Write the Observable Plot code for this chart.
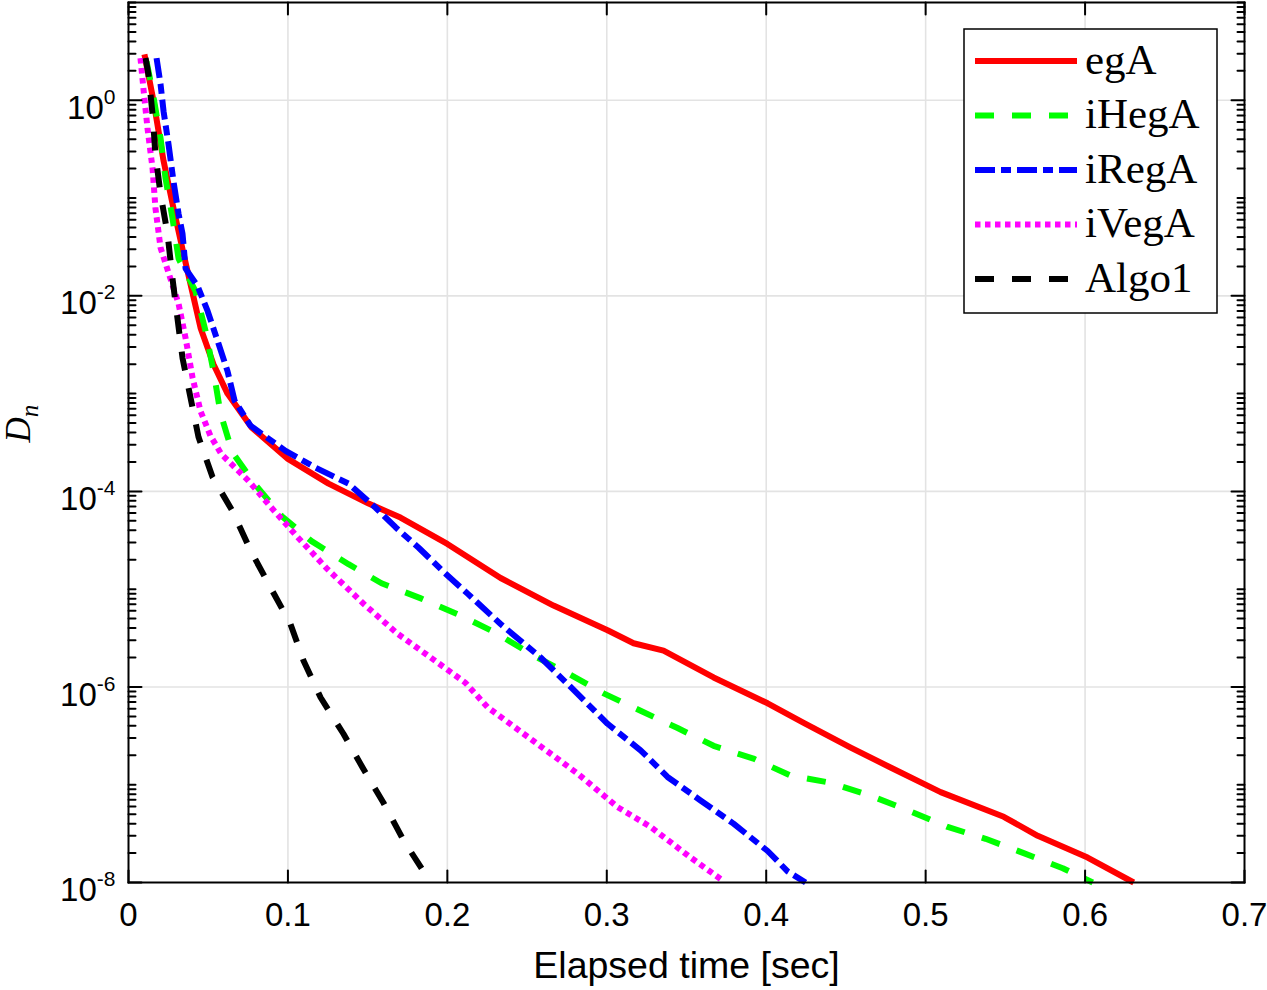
<!DOCTYPE html>
<html>
<head>
<meta charset="utf-8">
<script src="https://cdn.jsdelivr.net/npm/d3@7"></script>
<script src="https://cdn.jsdelivr.net/npm/@observablehq/plot@0.6"></script>
<style>
  html, body { margin: 0; padding: 0; background: #fff; }
  #chart { width: 1267px; height: 990px; }
</style>
</head>
<body>
<div id="chart"></div>
<script>
// ---------- data ----------
const seriesNames = ["egA", "iHegA", "iRegA", "iVegA", "Algo1"];
const seriesColors = ["#ff0000", "#00ff00", "#0000ff", "#ff00ff", "#000000"];
const seriesDash = [null, "19,18", "20,6,10,6", "5.5,4.5", "19,18"];

const egA_t = [0.0100,0.0157,0.022,0.0282,0.0345,0.040,0.0452,0.0533,0.0621,0.0772,0.100,0.1255,0.1506,0.1706,0.200,0.2334,0.2666,0.3005,0.3168,0.3356,0.367,0.4009,0.4235,0.453,0.478,0.5094,0.549,0.5703,0.6016,0.6305];
const egA_d = [2.95,0.98,0.24,0.079,0.027,0.011,0.0047,0.0020,1.0e-3,4.5e-4,2.15e-4,1.2e-4,7.5e-5,5.4e-5,2.9e-5,1.3e-5,6.8e-6,3.8e-6,2.8e-6,2.35e-6,1.25e-6,6.8e-7,4.3e-7,2.4e-7,1.5e-7,8.4e-8,4.7e-8,3.0e-8,1.8e-8,1.0e-8];

const iHegA_t = [0.0113,0.0151,0.0201,0.0232,0.0276,0.0314,0.042,0.0483,0.0533,0.0577,0.0652,0.079,0.096,0.1148,0.138,0.1587,0.1838,0.207,0.230,0.254,0.2754,0.298,0.3212,0.3444,0.367,0.392,0.4153,0.440,0.4655,0.4887,0.5138,0.5376,0.5615,0.586,0.6048];
const iHegA_d = [2.5,1.23,0.41,0.16,0.062,0.024,0.0112,0.0044,0.0017,6.3e-4,2.5e-4,1.2e-4,5.6e-5,3.1e-5,1.8e-5,1.15e-5,8e-6,5.5e-6,3.6e-6,2.1e-6,1.38e-6,8.6e-7,5.7e-7,3.8e-7,2.5e-7,1.85e-7,1.24e-7,1.05e-7,7.7e-8,5.5e-8,3.7e-8,2.8e-8,2.0e-8,1.4e-8,1.0e-8];

const iRegA_t = [0.0176,0.0201,0.022,0.0251,0.0282,0.0314,0.0339,0.0358,0.0433,0.0496,0.0558,0.0621,0.0665,0.0765,0.0985,0.1173,0.138,0.155,0.1675,0.182,0.1989,0.2127,0.2334,0.2585,0.2817,0.3005,0.3212,0.3381,0.3588,0.3795,0.4009,0.4134,0.4247];
const iRegA_d = [2.7,1.46,0.77,0.355,0.149,0.069,0.043,0.019,0.0126,0.007,0.0035,0.0017,8.5e-4,4.7e-4,2.6e-4,1.75e-4,1.2e-4,6.8e-5,4.3e-5,2.65e-5,1.44e-5,9e-6,4.4e-6,2.0e-6,8.5e-7,4.2e-7,2.25e-7,1.2e-7,6.9e-8,4.0e-8,2.1e-8,1.3e-8,1.0e-8];

const iVegA_t = [0.0075,0.0094,0.0119,0.0151,0.0169,0.0201,0.0263,0.0314,0.0358,0.0402,0.0452,0.0514,0.0583,0.0753,0.0897,0.1054,0.1248,0.1474,0.1688,0.1895,0.2114,0.2252,0.254,0.2817,0.3068,0.3275,0.3526,0.3726];
const iVegA_d = [2.7,1.3,0.52,0.2,0.079,0.031,0.015,0.0083,0.0037,0.00145,6.6e-4,3.7e-4,2.4e-4,1.28e-4,6.8e-5,3.5e-5,1.6e-5,7.1e-6,3.5e-6,2.0e-6,1.1e-6,6.2e-7,2.8e-7,1.3e-7,5.9e-8,3.7e-8,1.8e-8,1.05e-8];

const Algo1_t = [0.0107,0.0125,0.0151,0.0169,0.0201,0.0245,0.0276,0.0307,0.0339,0.0389,0.0439,0.0527,0.0652,0.0765,0.0891,0.1016,0.1098,0.1205,0.1349,0.1468,0.160,0.1725,0.1895];
const Algo1_d = [2.7,1.84,0.72,0.28,0.11,0.043,0.015,0.0059,0.0023,9.1e-4,3.6e-4,1.4e-4,6.3e-5,2.5e-5,1.04e-5,4.4e-6,1.85e-6,7.8e-7,3.3e-7,1.5e-7,6.5e-8,2.7e-8,1.0e-8];

const xTicks = [0, 0.1, 0.2, 0.3, 0.4, 0.5, 0.6, 0.7];
const xTickLabels = ["0", "0.1", "0.2", "0.3", "0.4", "0.5", "0.6", "0.7"];
const yMajorTicks = [1e-8, 1e-6, 1e-4, 1e-2, 1e0];
const yMajorLabels = ["10^-8", "10^-6", "10^-4", "10^-2", "10^0"];
const xGrid = [0.1, 0.2, 0.3, 0.4, 0.5, 0.6];
const yGrid = [1e-6, 1e-4, 1e-2, 1e0];
const xLabel = "Elapsed time [sec]";
const yLabel = "D_n";

// ---------- build tables ----------
const tSets = [egA_t, iHegA_t, iRegA_t, iVegA_t, Algo1_t];
const dSets = [egA_d, iHegA_d, iRegA_d, iVegA_d, Algo1_d];
const seriesData = seriesNames.map((name, k) =>
  tSets[k].map((t, i) => ({series: name, t, d: dSets[k][i]})));

// minor y ticks: m * 10^k inside the domain, excluding the majors
const yMinorTicks = [];
for (let k = -8; k <= 0; k++) {
  for (let m = 1; m <= 9; m++) {
    const v = m * Math.pow(10, k);
    if (!yMajorTicks.some(M => Math.abs(M - v) / v < 1e-9)) yMinorTicks.push(v);
  }
}
yMinorTicks.push(10);

const sans = "'Liberation Sans', Arial, Helvetica, sans-serif";
const serif = "'Liberation Serif', 'Times New Roman', serif";

// tick shape: a plain line segment
const tickShape = {draw(context, l) { context.moveTo(0, 0); context.lineTo(0, -l); }};

// render transform: turn "a^b" / "a_b" into tspans
function richText(supSize, supDy, subSize, subDy) {
  return function(index, scales, values, dimensions, context, next) {
    const g = next(index, scales, values, dimensions, context);
    d3.select(g).selectAll("text").each(function() {
      const s = this.textContent;
      const m = s.match(/^(.*?)([\^_])(.*)$/);
      if (!m) return;
      const sel = d3.select(this);
      sel.text(null);
      sel.append("tspan").text(m[1]);
      if (m[2] === "^") {
        sel.append("tspan").attr("font-size", supSize).attr("dy", supDy).text(m[3]);
      } else {
        sel.append("tspan").attr("font-size", subSize).attr("dy", subDy).attr("font-style", "italic").text(m[3]);
      }
    });
    return g;
  };
}

// legend drawn inside the frame
function legendMark(index, scales, values, dimensions) {
  const {width, marginRight, marginTop} = dimensions;
  const right = width - marginRight - 27;
  const left = right - 253;
  const top = marginTop + 27;
  const rowH = 54.5;
  const g = d3.create("svg:g");
  g.append("rect")
    .attr("x", left).attr("y", top)
    .attr("width", right - left).attr("height", 284)
    .attr("fill", "#fff").attr("stroke", "#000").attr("stroke-width", 1.5);
  seriesNames.forEach((name, k) => {
    const y = top + 32 + k * rowH;
    g.append("line")
      .attr("x1", left + 11).attr("x2", left + 113)
      .attr("y1", y).attr("y2", y)
      .attr("stroke", seriesColors[k]).attr("stroke-width", 6)
      .attr("stroke-dasharray", seriesDash[k])
      .attr("stroke-linecap", "butt");
    g.append("text")
      .attr("x", left + 121).attr("y", y + 12.5)
      .attr("text-anchor", "start")
      .attr("font-family", serif).attr("font-size", 43)
      .attr("fill", "#000")
      .text(name);
  });
  return g.node();
}

const lineMarks = seriesData.map((data, k) =>
  Plot.line(data, {
    x: "t", y: "d",
    stroke: seriesColors[k],
    strokeWidth: 6,
    strokeDasharray: seriesDash[k],
    strokeLinecap: "butt",
    strokeLinejoin: "round"
  }));

const chart = Plot.plot({
  width: 1267,
  height: 990,
  marginLeft: 128,
  marginRight: 23,
  marginTop: 2,
  marginBottom: 108,
  style: {background: "#fff", fontFamily: sans, color: "#000", overflow: "visible"},
  x: {domain: [0, 0.7], axis: null},
  y: {type: "log", domain: [1e-8, 10], axis: null},
  marks: [
    // grid
    Plot.ruleX(xGrid, {x: d => d, stroke: "#e3e3e3", strokeWidth: 1.6}),
    Plot.ruleY(yGrid, {y: d => d, stroke: "#e3e3e3", strokeWidth: 1.6}),
    // data
    ...lineMarks,
    // ticks (inward), bottom and top
    Plot.vector(xTicks, {x: d => d, frameAnchor: "bottom", length: 12, rotate: 0, anchor: "start", shape: tickShape, stroke: "#000", strokeWidth: 2}),
    Plot.vector(xTicks, {x: d => d, frameAnchor: "top", length: 12, rotate: 180, anchor: "start", shape: tickShape, stroke: "#000", strokeWidth: 2}),
    // ticks left and right
    Plot.vector(yMajorTicks, {y: d => d, frameAnchor: "left", length: 13, rotate: 90, anchor: "start", shape: tickShape, stroke: "#000", strokeWidth: 2}),
    Plot.vector(yMinorTicks, {y: d => d, frameAnchor: "left", length: 7, rotate: 90, anchor: "start", shape: tickShape, stroke: "#000", strokeWidth: 2}),
    Plot.vector(yMajorTicks, {y: d => d, frameAnchor: "right", length: 13, rotate: -90, anchor: "start", shape: tickShape, stroke: "#000", strokeWidth: 2}),
    Plot.vector(yMinorTicks, {y: d => d, frameAnchor: "right", length: 7, rotate: -90, anchor: "start", shape: tickShape, stroke: "#000", strokeWidth: 2}),
    // frame
    Plot.frame({stroke: "#000", strokeWidth: 2}),
    // legend
    legendMark,
    // x tick labels
    Plot.text(xTicks, {x: d => d, frameAnchor: "bottom", dy: 43, text: (d, i) => xTickLabels[i], fontSize: 33, fontFamily: sans, fill: "#000"}),
    // y tick labels with superscripts
    Plot.text(yMajorTicks, {y: d => d, frameAnchor: "left", dx: -13, dy: 8, textAnchor: "end", text: (d, i) => yMajorLabels[i], fontSize: 33, fontFamily: sans, fill: "#000", render: richText(21, -15, 0, 0)}),
    // axis labels
    Plot.text([xLabel], {frameAnchor: "bottom", dy: 95, text: d => d, fontSize: 37.5, fontFamily: sans, fill: "#000"}),
    Plot.text([yLabel], {frameAnchor: "left", dx: -110, dy: 0, rotate: -90, text: d => d, fontSize: 35, fontFamily: serif, fontStyle: "italic", fill: "#000", render: richText(0, 0, 25, 8)})
  ]
});

document.getElementById("chart").appendChild(chart);
</script>
</body>
</html>
